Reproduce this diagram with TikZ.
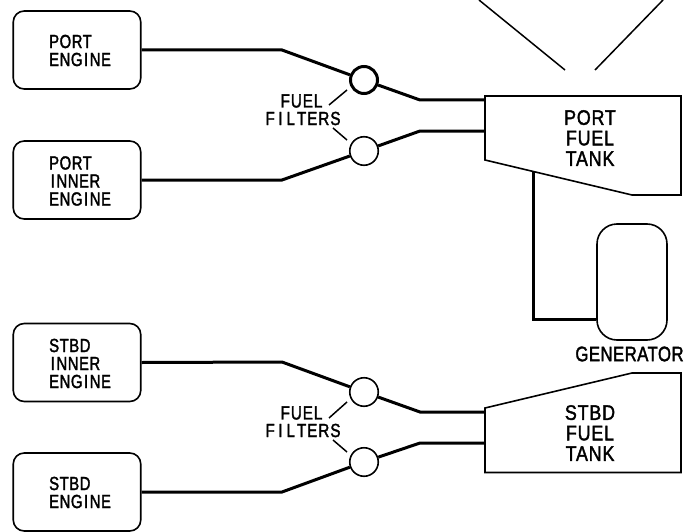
\documentclass[tikz,border=0pt]{standalone}
\usepackage{fontspec}
\setmainfont[FakeStretch=0.78,FakeBold=1.8,LetterSpace=3]{Liberation Sans}
\newfontfamily\tankfont[FakeStretch=0.85,FakeBold=1.8,LetterSpace=4]{Liberation Sans}
\newfontfamily\genfont[FakeStretch=0.8,FakeBold=1.8,LetterSpace=2]{Liberation Sans}
\newfontfamily\filtfont[FakeStretch=0.8,FakeBold=1.8,LetterSpace=5]{Liberation Sans}
\newcommand{\Ii}{\kern1.6pt I\kern1.6pt}
\newcommand{\Fi}{F\kern3.5pt I\kern4pt L\kern2pt T\kern1pt E\kern1pt R\kern1pt S}
\tikzset{
  x=1pt,y=-1pt,
  engine/.style={draw,line width=1.6pt,rounded corners=11pt,minimum width=127.5pt,minimum height=78pt,inner sep=0pt},
  lbl/.style={font=\fontsize{19}{18}\selectfont,align=left,inner sep=0pt,anchor=west},
  tanklbl/.style={font=\tankfont\fontsize{21}{20.5}\selectfont,align=center,inner sep=0pt},
  small/.style={font=\filtfont\fontsize{19}{18}\selectfont,inner sep=0pt},
  filter/.style={draw,circle,fill=white,line width=1.6pt,minimum size=28.5pt,inner sep=0pt},
  fuel/.style={line width=3pt,line join=miter},
  thin line/.style={line width=1.5pt},
  tank/.style={draw,line width=1.6pt,line join=miter}
}
\begin{document}
\begin{tikzpicture}
\useasboundingbox (0,0) rectangle (698,532);
% engines
\node[engine] (pe) at (77,50) {};
\node[engine] (pi) at (77,180) {};
\node[engine] (si) at (77,362.5) {};
\node[engine] (se) at (77,492) {};
\node[lbl] (tpe) at (49,50.5) {PORT\\ENG\Ii NE};
\node[lbl] (tpi) at (49,181) {PORT\\\Ii NNER\\ENG\Ii NE};
\node[lbl] (tsi) at (49,363.5) {STBD\\\Ii NNER\\ENG\Ii NE};
\node[lbl] (tse) at (49,492.5) {STBD\\ENG\Ii NE};
% filters
\node[filter,line width=3pt,minimum size=27pt] (f1) at (364,80) {};
\node[filter] (f2) at (364,151) {};
\node[filter] (f3) at (364,392) {};
\node[filter] (f4) at (364,462) {};
% tanks
\draw[tank] (485,96) coordinate (pt) -- (681,96) -- (681,195) -- (632,195) -- (485,160) -- cycle;
\draw[tank] (485,408) -- (632,373) -- (681,373) -- (681,472.5) -- (485,472.5) -- cycle;
\coordinate (p1) at (485,100); \coordinate (p2) at (485,131);
\coordinate (s1) at (485,412); \coordinate (s2) at (485,443);
\coordinate (pb) at (533,172);
\node[tanklbl] (tpt) at (590,138) {PORT\\FUEL\\TANK};
\node[tanklbl] (tst) at (590,433) {STBD\\FUEL\\TANK};
% fuel lines
\draw[fuel] (pe.east) -- (282,50) -- (f1);
\draw[fuel] (f1) -- (420,100) -- (p1);
\draw[fuel] (pi.east) -- (282,180) -- (f2);
\draw[fuel] (f2) -- (420,131) -- (p2);
\draw[fuel] (si.east) -- (282,362) -- (f3);
\draw[fuel] (f3) -- (420,412) -- (s1);
\draw[fuel] (se.east) -- (282,492) -- (f4);
\draw[fuel] (f4) -- (420,443) -- (s2);
% generator
\node[draw,line width=1.6pt,rounded corners=20pt,minimum width=70pt,minimum height=116pt,inner sep=0pt] (gen) at (632,282) {};
\draw[fuel] (pb) -- (533,319) -- (gen.west |- 0,319);
\node[font=\genfont\fontsize{21}{21}\selectfont,inner sep=0pt] (tgen) at (629.5,354) {GENERATOR};
% filter labels
\node[small] (ff1) at (301.5,101) {FUEL};
\node[small] (fg1) at (303,118.5) {\Fi};
\node[small] (ff2) at (301.5,413) {FUEL};
\node[small] (fg2) at (303,430.5) {\Fi};
\coordinate (a1) at (329,105); \coordinate (a2) at (347,90);
\coordinate (b1) at (333,128); \coordinate (b2) at (347,140);
\coordinate (c1) at (329,418); \coordinate (c2) at (347,402);
\coordinate (d1) at (333,440); \coordinate (d2) at (347,452);
\draw[thin line] (a1) -- (a2);
\draw[thin line] (b1) -- (b2);
\draw[thin line] (c1) -- (c2);
\draw[thin line] (d1) -- (d2);
% top diagonals
\coordinate (e1) at (479,0); \coordinate (e2) at (565,70);
\coordinate (g1) at (663,0); \coordinate (g2) at (595,70);
\draw[thin line] (e1) -- (e2);
\draw[thin line] (g1) -- (g2);
\end{tikzpicture}
\end{document}
